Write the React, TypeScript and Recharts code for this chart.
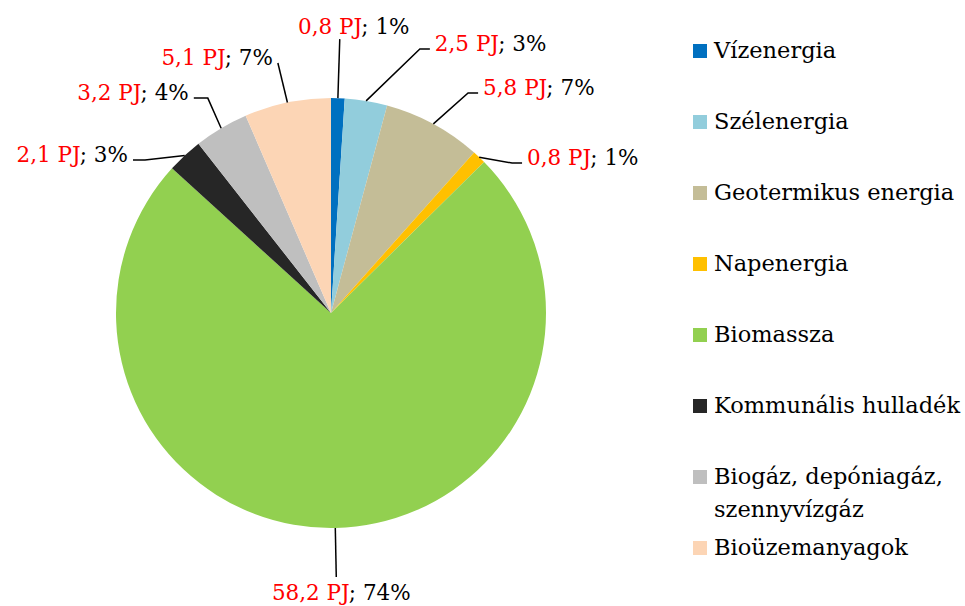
import React from 'react';
import { PieChart, Pie, Cell, Legend } from 'recharts';

const categories = [
  'Vízenergia',
  'Szélenergia',
  'Geotermikus energia',
  'Napenergia',
  'Biomassza',
  'Kommunális hulladék',
  'Biogáz, depóniagáz,\nszennyvízgáz',
  'Bioüzemanyagok',
];
const energyPJ = [0.8, 2.5, 5.8, 0.8, 58.2, 2.1, 3.2, 5.1];
const sharePct = [1, 3, 7, 1, 74, 3, 4, 7];
const colors = ['#0070C0', '#92CDDC', '#C4BD97', '#FFC000', '#92D050', '#262626', '#BFBFBF', '#FCD5B5'];

const data = categories.map((name, i) => ({ name, value: energyPJ[i], share: sharePct[i] }));

const FONT = "'DejaVu Serif', serif";
const LABEL_SIZE = 21.5;
const LEGEND_SIZE = 22.5;

// label placement per slice: [angle nudge (deg, clockwise), elbow radius, horizontal tail]
const labelLayout: number[][] = [
  [0, 274, 0],
  [9.2, 278.6, 10],
  [3.5, 259.2, 10],
  [6.8, 235.1, 10],
  [0, 264, 0],
  [-7.7, 240.8, 12],
  [0.9, 247.7, 14],
  [-0.3, 255.6, 0],
];

const fmt = (v: number) => v.toFixed(1).replace('.', ',');

const renderLabel = (props: any) => {
  const { cx, cy, midAngle, outerRadius, index, value } = props;
  const [shift, r, tail] = labelLayout[index];
  const RAD = Math.PI / 180;
  const a = midAngle * RAD;
  const x0 = cx + outerRadius * Math.cos(a);
  const y0 = cy - outerRadius * Math.sin(a);
  const b = (midAngle - shift) * RAD;
  const x1 = cx + r * Math.cos(b);
  const y1 = cy - r * Math.sin(b);
  const vertical = Math.abs(x1 - cx) < 30;
  const side = x1 >= cx ? 1 : -1;
  const x2 = vertical ? x1 : x1 + side * tail;

  let tx: number, ty: number, anchor: 'start' | 'middle' | 'end';
  if (vertical) {
    anchor = 'middle';
    if (y1 < cy) {
      tx = x1 + 14;
      ty = y1 - 5;
    } else {
      tx = x1 + 5;
      ty = y1 + 23;
    }
  } else {
    anchor = side > 0 ? 'start' : 'end';
    tx = x2 + side * 5;
    ty = y1 + 2;
  }

  return (
    <g key={`lbl-${index}`}>
      <polyline
        points={`${x0},${y0} ${x1},${y1} ${x2},${y1}`}
        stroke="#000"
        strokeWidth={1.5}
        fill="none"
      />
      <text x={tx} y={ty} textAnchor={anchor} fontFamily={FONT} fontSize={LABEL_SIZE}>
        <tspan fill="#FF0000">{fmt(value)} PJ</tspan>
        <tspan fill="#000000">; {sharePct[index]}%</tspan>
      </text>
    </g>
  );
};

const renderLegend = () => (
  <div style={{ fontFamily: FONT, fontSize: LEGEND_SIZE, color: '#000' }}>
    {categories.map((name, i) => (
      <div key={name} style={{ display: 'flex', alignItems: 'flex-start', height: 71 }}>
        <span
          style={{
            display: 'inline-block',
            width: 14,
            height: 14,
            marginTop: 10,
            marginRight: 7,
            background: colors[i],
            flexShrink: 0,
          }}
        />
        <span style={{ lineHeight: '33px', whiteSpace: 'pre-line' }}>{name}</span>
      </div>
    ))}
  </div>
);

export default function App() {
  return (
    <div style={{ position: 'absolute', left: 0, top: 0, width: 965, height: 606, background: '#fff', overflow: 'hidden' }}>
      <PieChart width={965} height={606} margin={{ top: 0, right: 0, bottom: 0, left: 0 }}>
        <Pie
          data={data}
          dataKey="value"
          nameKey="name"
          cx={331}
          cy={313}
          outerRadius={215}
          startAngle={90}
          endAngle={-270}
          stroke="none"
          labelLine={false}
          label={renderLabel}
          isAnimationActive={false}
        >
          {data.map((d, i) => (
            <Cell key={d.name} fill={colors[i]} />
          ))}
        </Pie>
        <Legend
          content={renderLegend}
          layout="vertical"
          wrapperStyle={{ position: 'absolute', left: 693, top: 34, width: 272 }}
        />
      </PieChart>
    </div>
  );
}
